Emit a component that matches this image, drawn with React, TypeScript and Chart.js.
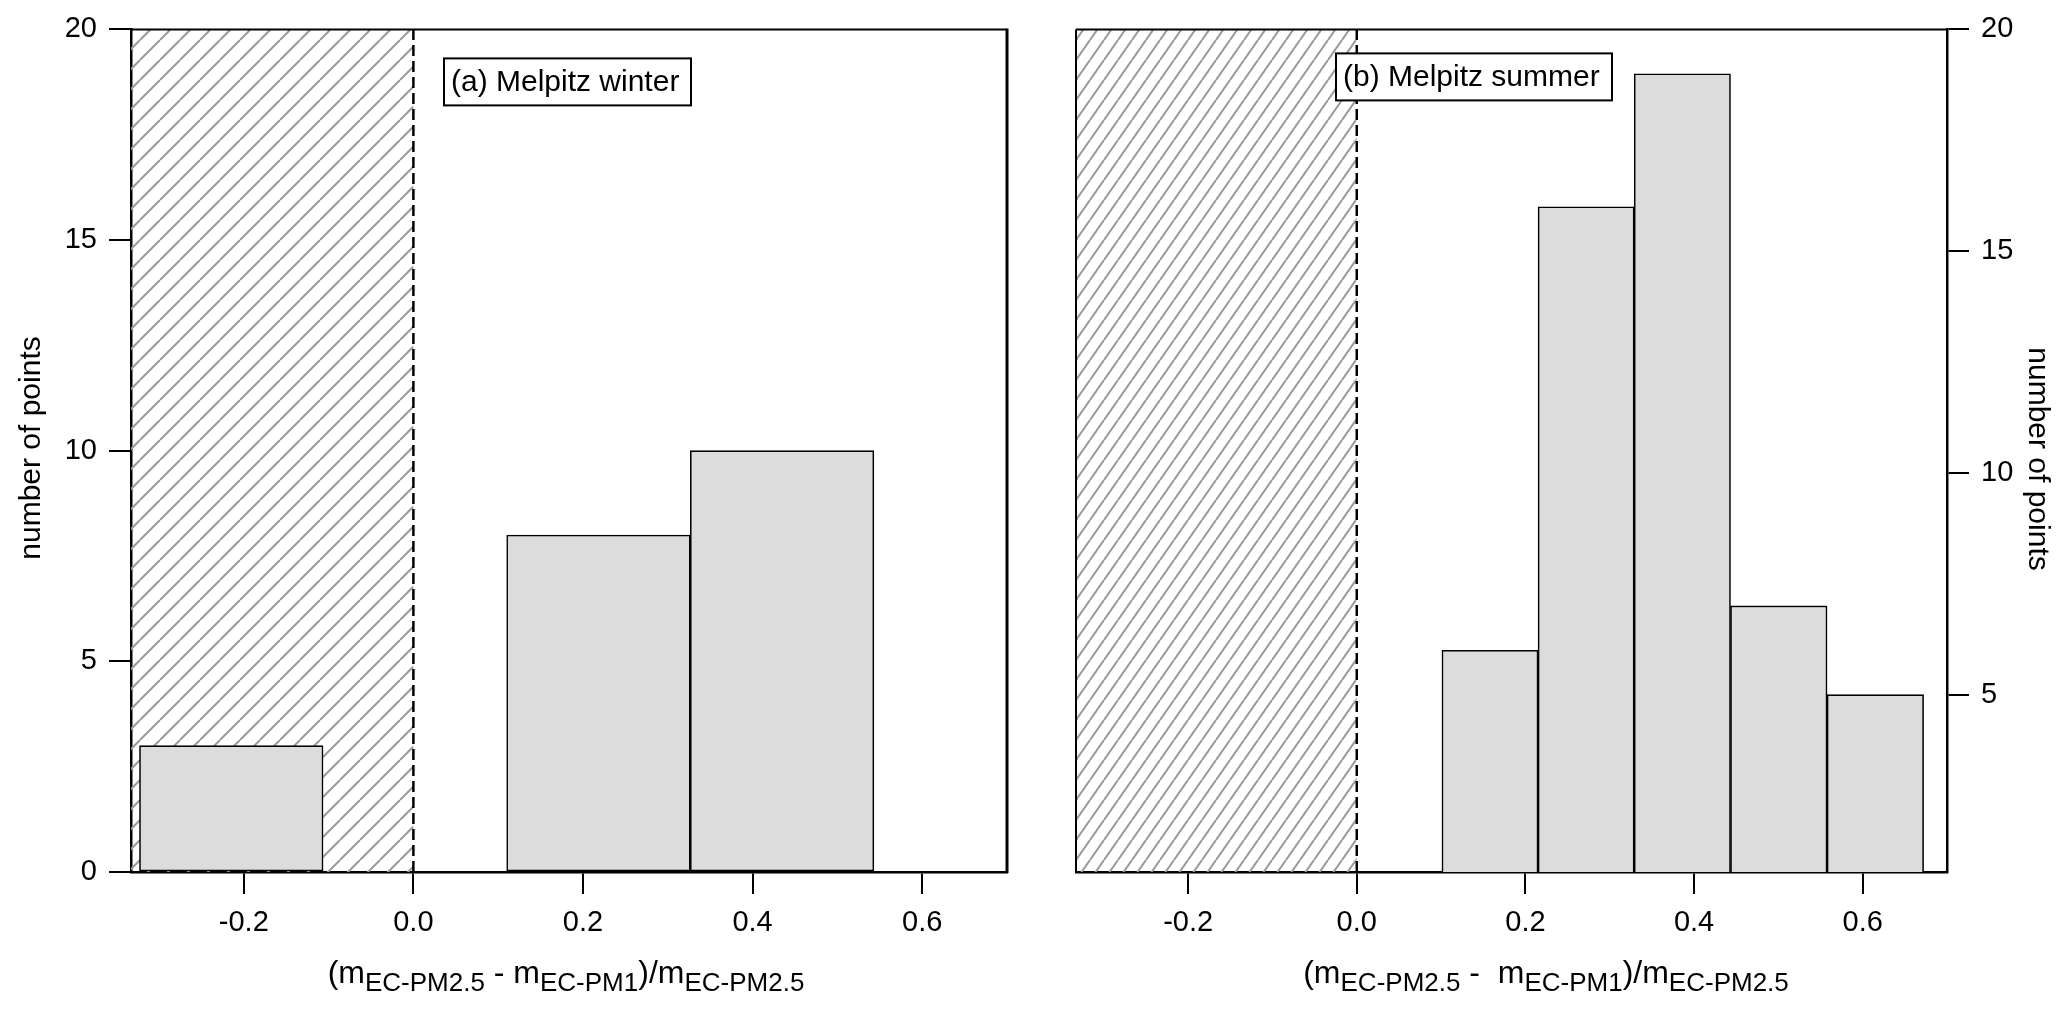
import React, { useEffect, useRef } from "react";
import { Chart, registerables } from "chart.js";

Chart.register(...registerables);

// ---------- data ----------
const xTicks = [-0.2, 0.0, 0.2, 0.4, 0.6];
const xMin = -0.333;
const xMax = 0.7;
const excludedFrom = -0.333;
const excludedTo = 0.0;
const dividerX = 0.0;

const winterBinEdges = [-0.323, -0.1065, 0.11, 0.3265, 0.543];
const winterCounts = [3, 0, 8, 10];
const winterYTicks = [0, 5, 10, 15, 20];
const winterYMin = 0;
const winterYMax = 20;

const summerBinEdges = [0.101, 0.215, 0.329, 0.443, 0.558, 0.672];
const summerCounts = [6, 16, 19, 7, 5];
const summerYTicks = [5, 10, 15, 20];
const summerYMin = 1;
const summerYMax = 20;

const yTitle = "number of points";
const winterLabel = "(a) Melpitz winter";
const summerLabel = "(b) Melpitz summer";
const winterXTitle: [string, boolean][] = [
  ["(m", false], ["EC-PM2.5", true], [" - m", false], ["EC-PM1", true], [")/m", false], ["EC-PM2.5", true],
];
const summerXTitle: [string, boolean][] = [
  ["(m", false], ["EC-PM2.5", true], [" -  m", false], ["EC-PM1", true], [")/m", false], ["EC-PM2.5", true],
];

const FONT = "'Liberation Sans', Arial, Helvetica, sans-serif";

function makeHatch(w: number, h: number, color: string, width: number) {
  const c = document.createElement("canvas");
  c.width = w;
  c.height = h;
  const g = c.getContext("2d")!;
  g.strokeStyle = color;
  g.lineWidth = width;
  g.beginPath();
  for (let k = -1; k <= 1; k++) {
    g.moveTo(k * w, h);
    g.lineTo(k * w + w, 0);
  }
  g.stroke();
  return g.createPattern(c, "repeat");
}

type PanelCfg = {
  side: "left" | "right";
  edges: number[];
  counts: number[];
  yMin: number;
  yMax: number;
  yTicks: number[];
  label: string;
  labelBox: { dx: number; dy: number; w: number; h: number };
  xTitle: [string, boolean][];
  xTitleCenter: number;
  yTitlePos: { x: number; y: number };
  padL: number;
  padR: number;
  yAxisWidth: number;
  hatch: { w: number; h: number };
};

function buildChart(canvas: HTMLCanvasElement, p: PanelCfg) {
  const bars = p.counts.map((c, i) => ({ x: (p.edges[i] + p.edges[i + 1]) / 2, y: c }));
  const hatch = makeHatch(p.hatch.w, p.hatch.h, "#9a9a9a", 2);

  const panelPlugin = {
    id: "panel_" + p.side,
    afterDraw(chart: any) {
      const { ctx, chartArea: a } = chart;
      ctx.save();
      ctx.strokeStyle = "#000";
      ctx.lineWidth = 2;
      ctx.beginPath();
      ctx.moveTo(a.left, a.top);
      ctx.lineTo(a.right, a.top);
      ctx.stroke();
      if (p.side === "left") {
        ctx.lineWidth = 3;
        ctx.beginPath();
        ctx.moveTo(a.right, a.top - 1);
        ctx.lineTo(a.right, a.bottom + 1);
        ctx.stroke();
      } else {
        ctx.lineWidth = 2;
        ctx.beginPath();
        ctx.moveTo(a.left, a.top);
        ctx.lineTo(a.left, a.bottom);
        ctx.stroke();
      }
      // annotation box
      const bx = a.left + p.labelBox.dx;
      const by = a.top + p.labelBox.dy;
      ctx.fillStyle = "#fff";
      ctx.fillRect(bx, by, p.labelBox.w, p.labelBox.h);
      ctx.lineWidth = 2;
      ctx.strokeRect(bx, by, p.labelBox.w, p.labelBox.h);
      ctx.fillStyle = "#000";
      ctx.font = `30px ${FONT}`;
      ctx.textAlign = "left";
      ctx.textBaseline = "middle";
      ctx.fillText(p.label, bx + 7, by + p.labelBox.h / 2 + 1);
      // y title
      ctx.save();
      ctx.translate(p.yTitlePos.x, p.yTitlePos.y);
      ctx.rotate(p.side === "left" ? -Math.PI / 2 : Math.PI / 2);
      ctx.textAlign = "center";
      ctx.textBaseline = "middle";
      ctx.font = `30px ${FONT}`;
      ctx.fillText(yTitle, 0, 0);
      ctx.restore();
      // x title with subscripts
      const mainFont = `32px ${FONT}`;
      const subFont = `26px ${FONT}`;
      let total = 0;
      const widths = p.xTitle.map(([t, sub]) => {
        ctx.font = sub ? subFont : mainFont;
        const w = ctx.measureText(t).width;
        total += w;
        return w;
      });
      let x = p.xTitleCenter - total / 2;
      ctx.textAlign = "left";
      ctx.textBaseline = "alphabetic";
      p.xTitle.forEach(([t, sub], i) => {
        ctx.font = sub ? subFont : mainFont;
        ctx.fillText(t, x, sub ? 991 : 983);
        x += widths[i];
      });
      ctx.restore();
    },
  };

  const tickFont = { family: FONT, size: 29 };

  return new Chart(canvas, {
    type: "bar",
    data: {
      datasets: [
        {
          type: "bar",
          data: bars as any,
          backgroundColor: "#dcdcdc",
          borderColor: "#000",
          borderWidth: 1.6,
          borderSkipped: false,
          barThickness: "flex",
          barPercentage: 1,
          categoryPercentage: 1,
          order: 0,
        } as any,
        {
          type: "line",
          data: [
            { x: dividerX, y: p.yMin },
            { x: dividerX, y: p.yMax },
          ],
          borderColor: "#000",
          borderWidth: 2.5,
          borderDash: [11, 5],
          pointRadius: 0,
          fill: false,
          order: 1,
        } as any,
        {
          type: "line",
          data: [
            { x: excludedFrom, y: p.yMax },
            { x: excludedTo, y: p.yMax },
          ],
          borderColor: "rgba(0,0,0,0)",
          borderWidth: 0,
          backgroundColor: hatch,
          pointRadius: 0,
          fill: "start",
          order: 2,
        } as any,
      ],
    },
    options: {
      responsive: false,
      animation: false,
      events: [],
      layout: { padding: { left: p.padL, right: p.padR, top: 28, bottom: 0 } },
      plugins: { legend: { display: false }, tooltip: { enabled: false } },
      scales: {
        x: {
          type: "linear",
          min: xMin,
          max: xMax,
          offset: false,
          afterBuildTicks: (s: any) => {
            s.ticks = xTicks.map((v) => ({ value: v }));
          },
          afterFit: (s: any) => {
            s.height = 137;
          },
          ticks: {
            callback: (v: any) => Number(v).toFixed(1),
            font: tickFont,
            color: "#000",
            padding: 12,
            maxRotation: 0,
            autoSkip: false,
          },
          grid: { drawOnChartArea: false, drawTicks: true, tickLength: 22, color: "#000", lineWidth: 2, offset: false },
          border: { display: true, color: "#000", width: 2.5 },
        },
        y: {
          type: "linear",
          position: p.side,
          min: p.yMin,
          max: p.yMax,
          afterBuildTicks: (s: any) => {
            s.ticks = p.yTicks.map((v) => ({ value: v }));
          },
          afterFit: (s: any) => {
            s.width = p.yAxisWidth;
          },
          ticks: { font: tickFont, color: "#000", padding: 12, autoSkip: false },
          grid: { drawOnChartArea: false, drawTicks: true, tickLength: 22, color: "#000", lineWidth: 2 },
          border: { display: true, color: "#000", width: 2.5 },
        },
      },
    } as any,
    plugins: [panelPlugin],
  });
}

export default function App() {
  const leftRef = useRef<HTMLCanvasElement>(null);
  const rightRef = useRef<HTMLCanvasElement>(null);

  useEffect(() => {
    const c1 = buildChart(leftRef.current!, {
      side: "left",
      edges: winterBinEdges,
      counts: winterCounts,
      yMin: winterYMin,
      yMax: winterYMax,
      yTicks: winterYTicks,
      label: winterLabel,
      labelBox: { dx: 313, dy: 29, w: 247, h: 47 },
      xTitle: winterXTitle,
      xTitleCenter: 566,
      yTitlePos: { x: 32, y: 448 },
      padL: 0,
      padR: 27,
      yAxisWidth: 131,
      hatch: { w: 20, h: 20 },
    });
    const c2 = buildChart(rightRef.current!, {
      side: "right",
      edges: summerBinEdges,
      counts: summerCounts,
      yMin: summerYMin,
      yMax: summerYMax,
      yTicks: summerYTicks,
      label: summerLabel,
      labelBox: { dx: 260, dy: 24, w: 276, h: 47 },
      xTitle: summerXTitle,
      xTitleCenter: 512,
      yTitlePos: { x: 1003, y: 459 },
      padL: 42,
      padR: 0,
      yAxisWidth: 120,
      hatch: { w: 14, h: 20 },
    });
    return () => {
      c1.destroy();
      c2.destroy();
    };
  }, []);

  return (
    <div style={{ position: "absolute", left: 0, top: 0, width: 2067, height: 1009, background: "#fff" }}>
      <canvas
        ref={leftRef}
        width={1034}
        height={1009}
        style={{ position: "absolute", left: 0, top: 0, width: 1034, height: 1009 }}
      />
      <canvas
        ref={rightRef}
        width={1033}
        height={1009}
        style={{ position: "absolute", left: 1034, top: 0, width: 1033, height: 1009 }}
      />
    </div>
  );
}
